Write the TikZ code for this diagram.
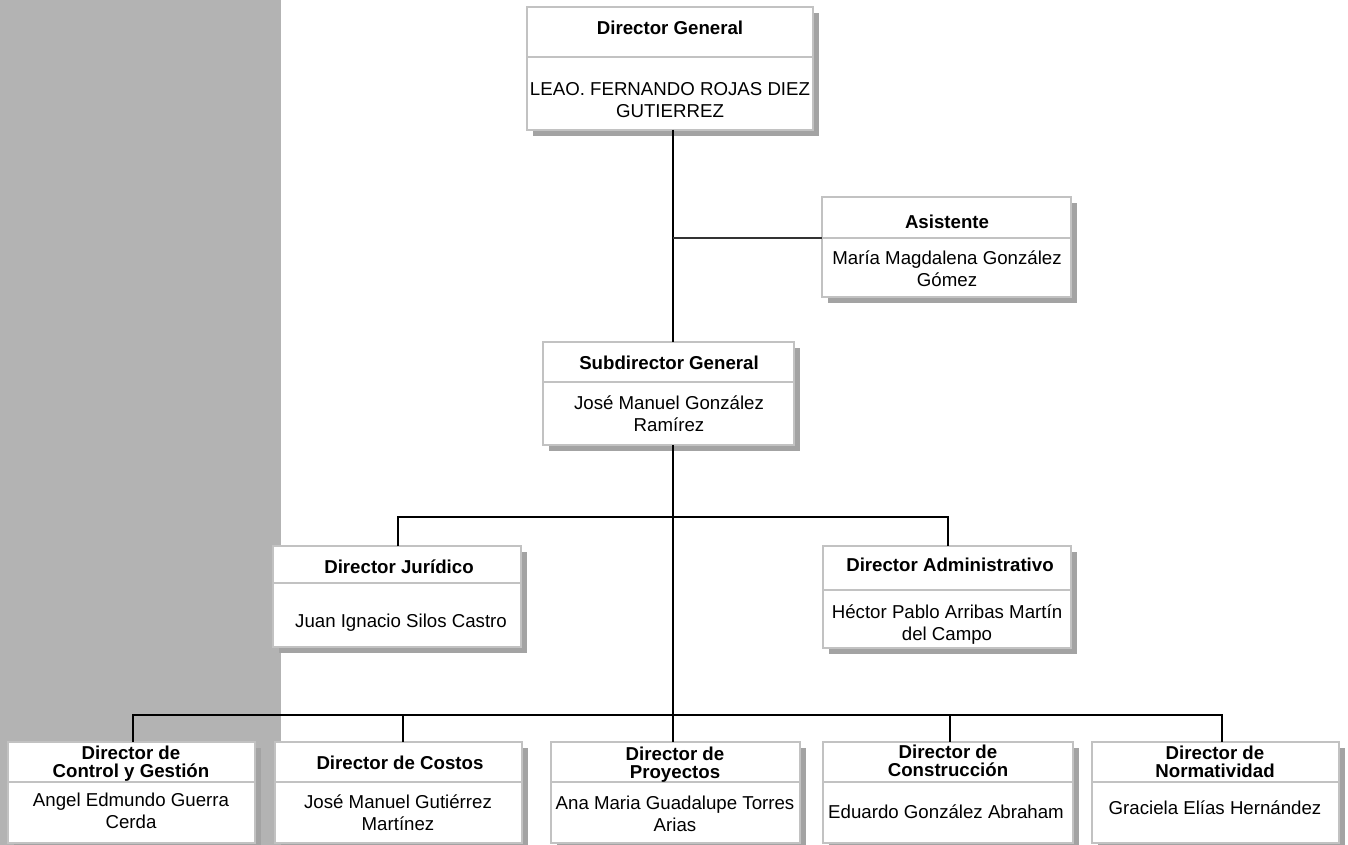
\documentclass[tikz,border=0pt]{standalone}
\usepackage{fontspec}
\setmainfont{Liberation Sans}
\definecolor{panelgray}{HTML}{B3B3B3}
\definecolor{bordergray}{HTML}{C2C2C2}
\definecolor{shadowgray}{HTML}{A3A3A3}
\tikzset{
  orgnode/.style={draw=bordergray, fill=white, line width=1.5pt, inner sep=0pt, outer sep=0pt},
  boxshadow/.style={fill=shadowgray},
  divline/.style={draw=bordergray, line width=1.5pt},
  conn/.style={draw=black, line width=1.5pt},
  thinconn/.style={draw=black!80, line width=0.8pt},
  ttl/.style={font=\fontsize{14}{13.5}\selectfont\bfseries, align=center, inner sep=0pt},
  per/.style={font=\fontsize{14}{16.5}\selectfont, align=center, inner sep=0pt},
}
\newcommand\orgbox[6]{%
  \fill[boxshadow] ({#2+6},{#3+6}) rectangle ({#4+6},{#5+6});
  \node[orgnode, minimum width={(#4-#2)*0.75pt}, minimum height={(#5-#3)*0.75pt}] (#1) at ({(#2+#4)/2},{(#3+#5)/2}) {};
  \draw[divline] (#2,#6) -- (#4,#6);
  \coordinate (#1-div) at (#2,#6);
}
\begin{document}
\begin{tikzpicture}[x=0.75pt, y=-0.75pt]
\useasboundingbox (0,0) rectangle (1348,845);
\fill[white] (0,0) rectangle (1348,845);
\fill[panelgray] (0,0) rectangle (281,845);

% boxes
\orgbox{dg}{527}{7}{813}{130}{57}
\orgbox{asis}{822}{197}{1071}{297}{238}
\orgbox{sub}{543}{342}{794}{445}{382}
\orgbox{jur}{273}{546}{521}{647}{583}
\orgbox{adm}{823}{546}{1071}{648}{590}
\orgbox{b1}{8}{742}{255}{843}{782}
\orgbox{b2}{275}{742}{522}{843}{782}
\orgbox{b3}{551}{742}{800}{843}{782}
\orgbox{b4}{823}{742}{1073}{843}{782}
\orgbox{b5}{1092}{742}{1339}{843}{782}

% texts
\node[ttl] (dg-t) at (670,28) {Director General};
\node[per] (dg-p) at (670,100) {LEAO. FERNANDO ROJAS DIEZ\\GUTIERREZ};
\node[ttl] (asis-t) at (947,222) {Asistente};
\node[per] (asis-p) at (947,269) {María Magdalena González\\Gómez};
\node[ttl] (sub-t) at (669,363) {Subdirector General};
\node[per] (sub-p) at (669,414) {José Manuel González\\Ramírez};
\node[ttl] (jur-t) at (399,567) {Director Jurídico};
\node[per] (jur-p) at (401,623) {Juan Ignacio Silos Castro};
\node[ttl] (adm-t) at (950,565) {Director Administrativo};
\node[per] (adm-p) at (947,625) {Héctor Pablo Arribas Martín\\del Campo};
\node[ttl] (b1-t) at (131,764) {Director de\\Control y Gestión};
\node[per] (b1-p) at (131,811) {Angel Edmundo Guerra\\Cerda};
\node[ttl] (b2-t) at (400,763) {Director de Costos};
\node[per] (b2-p) at (398,813) {José Manuel Gutiérrez\\Martínez};
\node[ttl] (b3-t) at (675,765) {Director de\\Proyectos};
\node[per] (b3-p) at (675,814) {Ana Maria Guadalupe Torres\\Arias};
\node[ttl] (b4-t) at (948,761) {Director de\\Construcción};
\node[per] (b4-p) at (946,812) {Eduardo González Abraham};
\node[ttl] (b5-t) at (1215,762) {Director de\\Normatividad};
\node[per] (b5-p) at (1215,808) {Graciela Elías Hernández};

% connectors
\coordinate (spine) at (673,0);
\coordinate (bus1) at (0,517);
\coordinate (bus2) at (0,715);
\draw[conn] (spine |- dg.south) -- (spine |- sub.north);
\draw[thinconn] (spine |- asis-div) -- (asis-div);
\draw[conn] (spine |- sub.south) -- (spine |- b3.north);
\draw[conn] ([xshift=0.75pt]jur.north) -- ([xshift=0.75pt]jur.north |- bus1) -- ([xshift=0.75pt]adm.north |- bus1) -- ([xshift=0.75pt]adm.north);
\draw[conn] ([xshift=1pt]b1.north) -- ([xshift=1pt]b1.north |- bus2) -- ([xshift=4.5pt]b5.north |- bus2) -- ([xshift=4.5pt]b5.north);
\draw[conn] ([xshift=3pt]b2.north |- bus2) -- ([xshift=3pt]b2.north);
\draw[conn] ([xshift=1.5pt]b4.north |- bus2) -- ([xshift=1.5pt]b4.north);
\end{tikzpicture}
\end{document}
